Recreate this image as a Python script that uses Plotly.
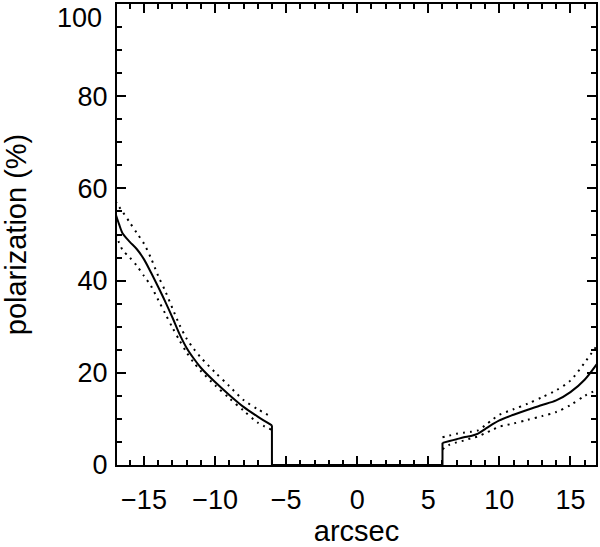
import plotly.graph_objects as go

# Left branch (arcsec, polarization %)
x_left = [-17, -16.75, -16.5, -16, -15.5, -15, -14.5, -14, -13.5, -13, -12.5, -12, -11.5, -11, -10, -9, -8, -7, -6]
p_left = [54.5, 52.2, 50.2, 48.4, 46.8, 44.6, 41.7, 38.6, 35.4, 32.0, 28.4, 25.4, 23.1, 21.1, 18.0, 15.2, 12.6, 10.5, 8.6]
p_left_hi = [57.2, 56.0, 54.9, 52.6, 50.3, 48.0, 44.8, 41.0, 37.7, 34.0, 30.4, 27.4, 25.2, 23.3, 20.1, 17.1, 14.1, 12.1, 10.4]
p_left_lo = [50.0, 48.2, 46.6, 45.0, 43.2, 41.0, 38.8, 35.8, 32.8, 29.8, 27.0, 24.4, 22.2, 20.4, 17.3, 14.5, 11.8, 9.2, 7.6]

# Gap where polarization is zero
x_gap = [-6, 6]
p_gap = [0, 0]

# Right branch
x_right = [6, 6.5, 7, 7.5, 8, 8.5, 9, 9.5, 10, 11, 12, 13, 14, 15, 16, 17]
p_right = [4.8, 5.2, 5.6, 6.0, 6.3, 6.8, 7.8, 8.8, 9.7, 10.9, 12.0, 13.0, 14.0, 15.8, 18.5, 22.5]
p_right_hi = [6.0, 6.4, 6.8, 7.0, 7.2, 7.5, 8.6, 9.8, 10.9, 12.1, 13.3, 14.7, 16.2, 18.3, 22.2, 26.5]
p_right_lo = [3.4, 4.4, 4.9, 5.3, 5.8, 6.2, 6.9, 7.6, 8.3, 9.0, 9.8, 10.6, 11.5, 13.0, 15.0, 16.5]

x_ticks = [-15, -10, -5, 0, 5, 10, 15]
y_ticks = [0, 20, 40, 60, 80, 100]

FONT = "Liberation Sans"
TICK_SIZE = 27

fig = go.Figure()

# smooth branches
for xs, ys in [(x_left, p_left), (x_right, p_right)]:
    fig.add_trace(go.Scatter(x=xs, y=ys, mode="lines",
                             line=dict(color="black", width=2, shape="spline", smoothing=0.8),
                             showlegend=False))
# drop to zero, gap, and rise
conn_x = [x_left[-1], x_gap[0], x_gap[1], x_right[0]]
conn_y = [p_left[-1], p_gap[0], p_gap[1], p_right[0]]
fig.add_trace(go.Scatter(x=conn_x, y=conn_y, mode="lines",
                         line=dict(color="black", width=2), showlegend=False))

for xs, ys in [(x_left, p_left_hi), (x_left, p_left_lo), (x_right, p_right_hi), (x_right, p_right_lo)]:
    fig.add_trace(go.Scatter(x=xs, y=ys, mode="lines",
                             line=dict(color="black", width=2, dash="2px,5px",
                                       shape="spline", smoothing=0.8),
                             showlegend=False))

axis_common = dict(
    showline=True, linecolor="black", linewidth=2, mirror="ticks",
    ticks="inside", ticklen=9, tickwidth=1.5, tickcolor="black",
    showgrid=False, zeroline=False,
    tickfont=dict(family=FONT, size=TICK_SIZE, color="black"),
)

fig.update_xaxes(
    range=[-16.9, 16.8], tickvals=x_ticks,
    minor=dict(dtick=1, ticklen=5, ticks="inside", tickwidth=1.5, tickcolor="black", showgrid=False),
    title=dict(text="arcsec", font=dict(family=FONT, size=29, color="black"), standoff=17),
    ticklabelstandoff=10,
    **axis_common,
)
# the top label ("100") is drawn lowered, as in the reference
y_text = ["" if v == y_ticks[-1] else str(v) for v in y_ticks]
fig.update_yaxes(
    range=[0, 100], tickvals=y_ticks, ticktext=y_text,
    minor=dict(dtick=5, ticklen=5, ticks="inside", tickwidth=1.5, tickcolor="black", showgrid=False),
    title=dict(text="polarization (%)", font=dict(family=FONT, size=29, color="black"), standoff=47),
    ticklabelstandoff=2,
    **axis_common,
)
fig.add_annotation(x=0, xref="paper", y=y_ticks[-1], yref="y",
                   text=str(y_ticks[-1]), showarrow=False,
                   xanchor="right", yanchor="top", xshift=-13, yshift=3,
                   font=dict(family=FONT, size=TICK_SIZE, color="black"))

fig.update_layout(
    width=600, height=547,
    margin=dict(l=117, r=4, t=4, b=82, autoexpand=False),
    paper_bgcolor="white", plot_bgcolor="white",
    showlegend=False,
)

fig.write_html("out.html", config={"displayModeBar": False},
               post_script="document.body.style.margin='0';")
